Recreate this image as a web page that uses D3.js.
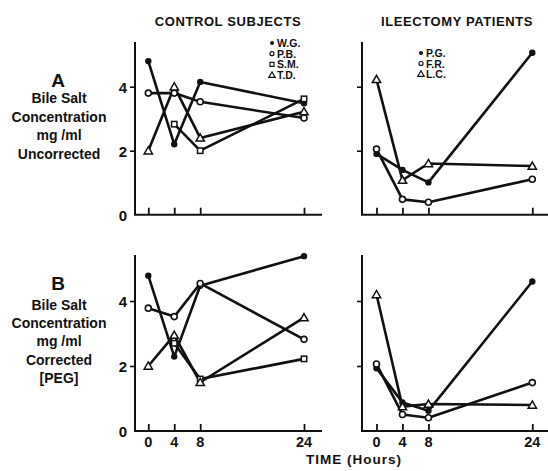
<!DOCTYPE html>
<html><head><meta charset="utf-8">
<script src="https://cdn.jsdelivr.net/npm/d3@7"></script>
<style>
body{margin:0;background:#fff;}
svg text{font-family:"Liberation Sans",Arial,sans-serif;font-weight:bold;fill:#111;}
</style></head>
<body>
<svg id="c" width="548" height="471"></svg>
<script>
// ---- data ----
const hours = [0, 4, 8, 24];
const xTickLabels = ["0", "4", "8", "24"];
const yTickValues = [0, 2, 4];

// Panel A (uncorrected), control subjects
const wgA = [4.8, 2.2, 4.15, 3.48];
const pbA = [3.8, 3.8, 3.53, 3.02];
const smA = [null, 2.83, 2.0, 3.62];
const tdA = [2.0, 4.0, 2.4, 3.22];
// Panel A, ileectomy patients
const pgA = [1.9, 1.4, 1.01, 5.06];
const frA = [2.05, 0.48, 0.39, 1.11];
const lcA = [4.23, 1.08, 1.6, 1.52];

// Panel B (corrected, PEG), control subjects
const wgB = [4.78, 2.29, 4.47, 5.38];
const pbB = [3.78, 3.52, 4.54, 2.82];
const smB = [null, 2.7, 1.6, 2.22];
const tdB = [2.0, 2.95, 1.5, 3.49];
// Panel B, ileectomy patients
const pgB = [1.93, 0.88, 0.62, 4.6];
const frB = [2.06, 0.51, 0.41, 1.49];
const lcB = [4.2, 0.75, 0.83, 0.8];

const controlNames = ["W.G.", "P.B.", "S.M.", "T.D."];
const controlMarks = ["dot", "circle", "square", "triangle"];
const patientNames = ["P.G.", "F.R.", "L.C."];
const patientMarks = ["dot", "circle", "triangle"];

// ---- layout ----
const svg = d3.select("#c");
const rowA = {top: 42, base: 214.7, y4: 86.7};
const rowB = {top: 255, base: 431, y4: 301};
const colL = {axisX: 135, r0: 148.3, r24: 304, end: 322};
const colR = {axisX: 362, r0: 376.5, r24: 532.3, end: 548};

function marker(g, type, x, y) {
  if (type === "dot") {
    g.append("circle").attr("cx", x).attr("cy", y).attr("r", 3.2).attr("fill", "#111");
  } else if (type === "circle") {
    g.append("circle").attr("cx", x).attr("cy", y).attr("r", 3).attr("fill", "#fff")
      .attr("stroke", "#111").attr("stroke-width", 1.6);
  } else if (type === "square") {
    g.append("rect").attr("x", x - 2.7).attr("y", y - 2.7).attr("width", 5.4).attr("height", 5.4)
      .attr("fill", "#fff").attr("stroke", "#111").attr("stroke-width", 1.5);
  } else {
    g.append("path").attr("d", d3.symbol(d3.symbolTriangle, 30)()).attr("transform", `translate(${x},${y + 0.8})`)
      .attr("fill", "#fff").attr("stroke", "#111").attr("stroke-width", 1.5);
  }
}

function panel(row, col, seriesList, marks, showYLabels, showXLabels) {
  const x = d3.scaleLinear().domain([0, 24]).range([col.r0, col.r24]);
  const y = d3.scaleLinear().domain([0, 4]).range([row.base, row.y4]);
  const g = svg.append("g");
  // spines
  g.append("line").attr("x1", col.axisX).attr("x2", col.axisX).attr("y1", row.top).attr("y2", row.base)
    .attr("stroke", "#111").attr("stroke-width", 2);
  g.append("line").attr("x1", col.axisX - 1).attr("x2", col.end).attr("y1", row.base).attr("y2", row.base)
    .attr("stroke", "#111").attr("stroke-width", 2);
  // y axis
  const ya = g.append("g").attr("transform", `translate(${col.axisX},0)`)
    .call(d3.axisLeft(y).tickValues(yTickValues).tickSizeInner(5).tickSizeOuter(0).tickPadding(3)
      .tickFormat(d => showYLabels ? d3.format("d")(d) : ""));
  ya.select(".domain").remove();
  ya.selectAll(".tick line").attr("stroke", "#111").attr("stroke-width", 1.6)
    .filter(d => d === 0).remove();
  ya.selectAll(".tick text").style("font-size", "15px").style("font-family", '"Liberation Sans",Arial,sans-serif')
    .style("font-weight", "bold").attr("fill", "#111").attr("dy", "0.36em");
  // x axis
  const xa = g.append("g").attr("transform", `translate(0,${row.base})`)
    .call(d3.axisTop(x).tickValues(hours).tickSizeInner(7).tickSizeOuter(0)
      .tickFormat(""));
  xa.select(".domain").remove();
  xa.selectAll(".tick line").attr("stroke", "#111").attr("stroke-width", 1.8);
  if (showXLabels) {
    g.selectAll(".xl").data(hours).join("text").attr("class", "xl")
      .attr("x", (d) => x(d)).attr("y", row.base + 16).attr("text-anchor", "middle")
      .style("font-size", "14.5px").text((d, i) => xTickLabels[i]);
  }
  // series
  const line = d3.line().defined(d => d[1] != null).x(d => x(d[0])).y(d => y(d[1]));
  seriesList.forEach((vals, si) => {
    const pts = hours.map((h, i) => [h, vals[i]]);
    g.append("path").attr("d", line(pts)).attr("fill", "none").attr("stroke", "#111")
      .attr("stroke-width", 2.6).attr("stroke-linejoin", "round");
  });
  seriesList.forEach((vals, si) => {
    hours.forEach((h, i) => {
      if (vals[i] != null) marker(g, marks[si], x(h), y(vals[i]));
    });
  });
}

panel(rowA, colL, [wgA, pbA, smA, tdA], controlMarks, true, false);
panel(rowA, colR, [pgA, frA, lcA], patientMarks, false, false);
panel(rowB, colL, [wgB, pbB, smB, tdB], controlMarks, true, true);
panel(rowB, colR, [pgB, frB, lcB], patientMarks, false, true);

// legends
function legend(names, marks, mx, tx, y0, dy) {
  const g = svg.append("g");
  names.forEach((n, i) => {
    const yy = y0 + i * dy;
    if (marks[i] === "dot") g.append("circle").attr("cx", mx).attr("cy", yy).attr("r", 2).attr("fill", "#111");
    else if (marks[i] === "circle") g.append("circle").attr("cx", mx).attr("cy", yy).attr("r", 2).attr("fill", "#fff").attr("stroke", "#111").attr("stroke-width", 1.2);
    else if (marks[i] === "square") g.append("rect").attr("x", mx - 2).attr("y", yy - 2).attr("width", 4).attr("height", 4).attr("fill", "#fff").attr("stroke", "#111").attr("stroke-width", 1.2);
    else g.append("path").attr("d", d3.symbol(d3.symbolTriangle, 18)()).attr("transform", `translate(${mx},${yy + 0.5})`).attr("fill", "#fff").attr("stroke", "#111").attr("stroke-width", 1.2);
    g.append("text").attr("x", tx).attr("y", yy + 4).style("font-size", "10.5px").text(n);
  });
}
legend(controlNames, controlMarks, 272, 277, 43, 10.7);
legend(patientNames, patientMarks, 421, 426, 53, 10.5);

// titles
svg.append("text").attr("x", 228).attr("y", 26).attr("text-anchor", "middle")
  .style("font-size", "13px").style("letter-spacing", "0.6px").text("CONTROL SUBJECTS");
svg.append("text").attr("x", 457).attr("y", 26).attr("text-anchor", "middle")
  .style("font-size", "13px").style("letter-spacing", "0.6px").text("ILEECTOMY PATIENTS");

// side labels
const labA = ["Bile Salt", "Concentration", "mg /ml", "Uncorrected"];
const labB = ["Bile Salt", "Concentration", "mg /ml", "Corrected", "[PEG]"];
function sideLabel(letter, lines, yLetter, yFirst, dy) {
  svg.append("text").attr("x", 58).attr("y", yLetter).attr("text-anchor", "middle")
    .style("font-size", "19px").text(letter);
  lines.forEach((t, i) => {
    svg.append("text").attr("x", 59).attr("y", yFirst + i * dy).attr("text-anchor", "middle")
      .style("font-size", "14px").text(t);
  });
}
sideLabel("A", labA, 87, 103, 18.5);
sideLabel("B", labB, 290, 310, 18.2);

svg.append("text").attr("x", 354).attr("y", 464).attr("text-anchor", "middle")
  .style("font-size", "13.5px").style("letter-spacing", "1px").text("TIME (Hours)");
</script>
</body></html>
